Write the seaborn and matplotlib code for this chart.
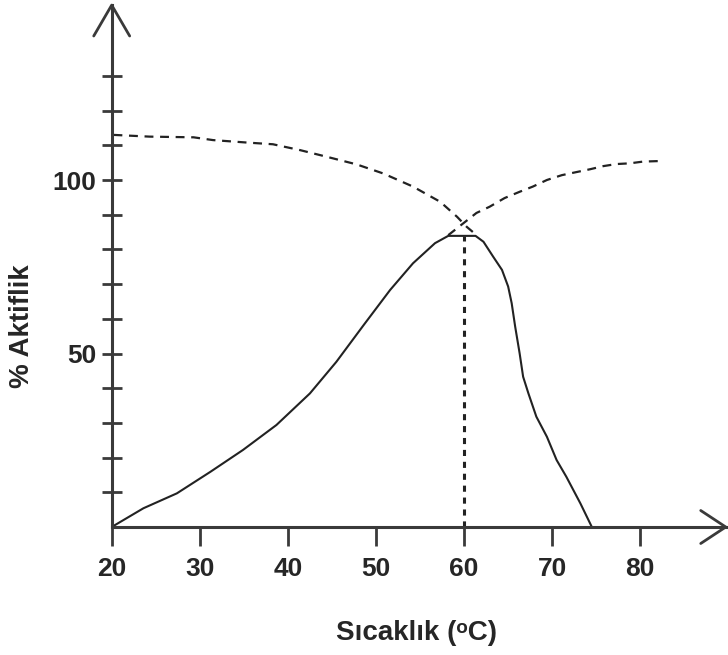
import numpy as np
import matplotlib
matplotlib.use('Agg')
import matplotlib.pyplot as plt
import seaborn as sns

# aktivite egrisi (duz cizgi)
sicaklik = [20, 23.6, 27.4, 31.2, 34.9, 38.7, 42.5, 45.5, 48.6, 51.6, 54.2, 56.7, 58.2,
            61.3, 62.2, 63.3, 64.3, 65.0, 65.4, 65.8, 66.3, 66.7, 67.3, 68.2, 69.4,
            70.5, 71.6, 73.2, 74.5]
aktiflik = [0, 5.4, 9.7, 15.9, 22.2, 29.4, 38.5, 47.6, 58.2, 68.3, 76.0, 81.8, 83.9,
            83.9, 82.2, 77.9, 74.1, 69.3, 64.5, 57.7, 50.1, 43.3, 38.5, 31.8, 26.0,
            19.3, 14.5, 6.8, 0]

# azalan kesikli egri
azalan_x = [20.2, 24.3, 29.3, 31.5, 35.3, 38.3, 41.4, 44.4, 47.8, 50.8, 54.2, 57.3,
            59.2, 60.3, 61.0]
azalan_y = [113.0, 112.5, 112.3, 111.5, 110.8, 110.3, 108.6, 106.7, 104.5, 101.9,
            98.1, 93.7, 89.4, 86.5, 85.0]

# artan kesikli egri
artan_x = [58.2, 60.1, 61.4, 62.9, 64.6, 66.3, 67.8, 69.4, 71.1, 72.6, 74.3, 75.8,
           77.3, 78.8, 80.3, 82.6]
artan_y = [84.1, 87.9, 90.5, 92.3, 94.8, 96.6, 98.1, 100.0, 101.4, 102.2, 103.1,
           104.0, 104.6, 104.8, 105.3, 105.5]

# optimum sicaklik cizgisi
opt_x = [60, 60]
opt_y = [0, 83.9]

x_ticks = [20, 30, 40, 50, 60, 70, 80]
y_ticks = list(range(10, 140, 10))
y_labels = ['50' if v == 50 else '100' if v == 100 else '' for v in y_ticks]

sns.set_style('white')
plt.rcParams['font.family'] = ['Liberation Sans', 'DejaVu Sans']
plt.rcParams['font.weight'] = 'bold'

koyu = '#3a3a3a'
egri = '#222222'

fig = plt.figure(figsize=(7.28, 6.55), dpi=100)
ax = fig.add_axes([111.7 / 728, 128 / 655, 616.3 / 728, 527 / 655])

sns.lineplot(x=sicaklik, y=aktiflik, ax=ax, color=egri, lw=1.5, estimator=None, sort=False)
sns.lineplot(x=azalan_x, y=azalan_y, ax=ax, color=egri, lw=1.6, estimator=None, sort=False,
             linestyle=(0, (4.0, 3.0)))
sns.lineplot(x=artan_x, y=artan_y, ax=ax, color=egri, lw=1.6, estimator=None, sort=False,
             linestyle=(0, (4.0, 3.0)))
sns.lineplot(x=opt_x, y=opt_y, ax=ax, color=egri, lw=2.2, estimator=None, sort=False,
             linestyle=(0, (2.0, 1.9)))

ax.set_xlim(20, 20 + 616.3 / 8.81)
ax.set_ylim(0, 527 / 3.47)

sns.despine(ax=ax)
for s in ['left', 'bottom']:
    ax.spines[s].set_color(koyu)
    ax.spines[s].set_linewidth(2.2)
ax.spines['left'].set_bounds(0, 150.4)
ax.spines['bottom'].set_bounds(20, 89.7)

# ok uclari
ax.plot([17.96, 20, 22.04], [141.5, 150.4, 141.5], color=koyu, lw=2.0, clip_on=False,
        solid_capstyle='round')
ax.plot([86.86, 89.7, 86.86], [4.75, 0, -4.75], color=koyu, lw=2.0, clip_on=False,
        solid_capstyle='round')

ax.set_xticks(x_ticks)
ax.set_xticklabels([str(v) for v in x_ticks])
ax.set_yticks(y_ticks)
ax.set_yticklabels(y_labels)
ax.tick_params(axis='y', left=True, direction='inout', length=14.4, width=2.0, color=koyu,
               pad=4.0, labelsize=19)
ax.tick_params(axis='x', bottom=True, direction='out', length=13.5, width=2.0, color=koyu,
               pad=8.0, labelsize=19)
for t in ax.get_xticklabels() + ax.get_yticklabels():
    t.set_fontweight('bold')
ax.set_xlabel('')
ax.set_ylabel('')

fig.text(22 / 728, 1 - 326 / 655, '% Aktiflik', rotation=90, ha='center', va='center',
         fontsize=20, fontweight='bold')
fig.text(417 / 728, 1 - 633 / 655, 'Sıcaklık (ᵒC)', ha='center', va='center',
         fontsize=20, fontweight='bold')

fig.savefig('out.png', dpi=100)
